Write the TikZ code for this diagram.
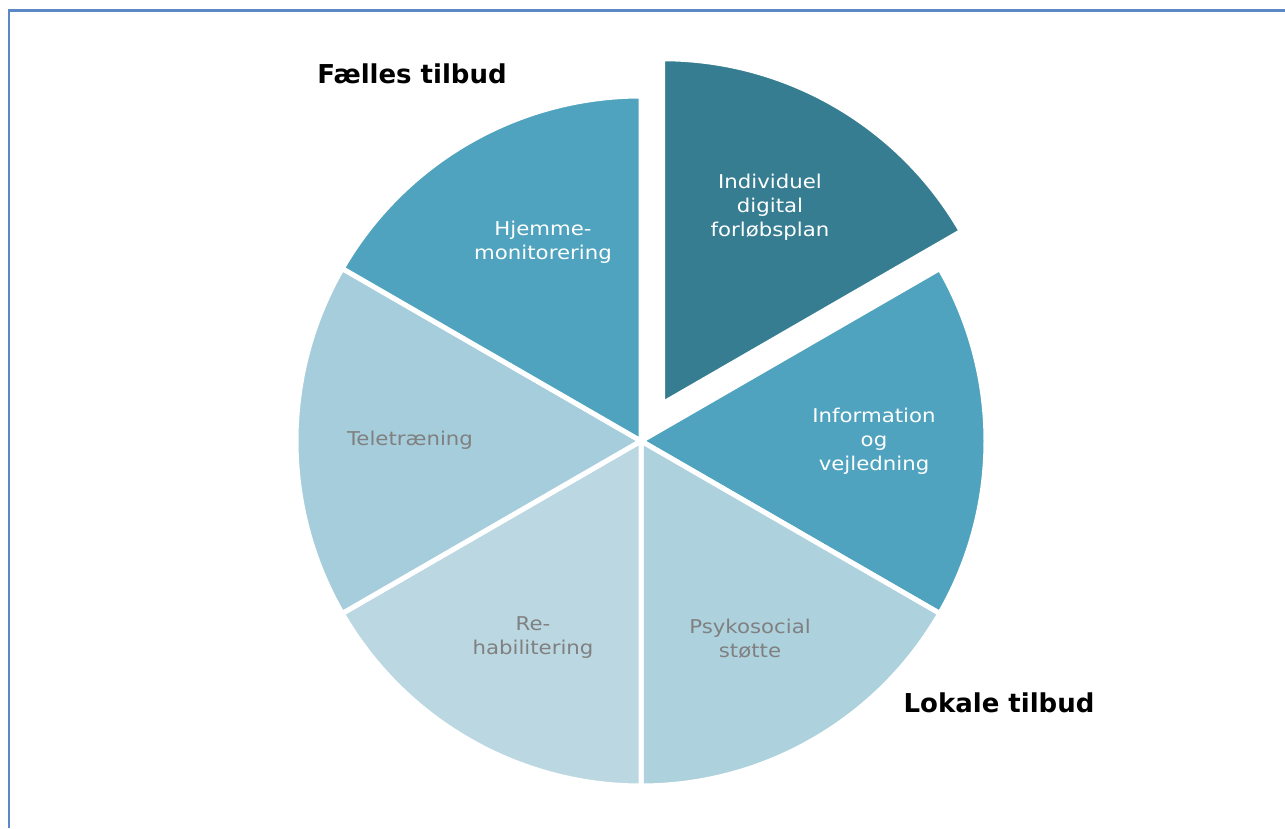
\documentclass[tikz,border=0pt]{standalone}
\usepackage{fontspec}
\setmainfont{DejaVu Sans}
\newfontfamily\widesans[FakeStretch=1.12]{DejaVu Sans}
\definecolor{frameblue}{HTML}{5A89C6}
\definecolor{tealdark}{HTML}{367D91}
\definecolor{tealmid}{HTML}{4FA3BE}
\definecolor{tealtele}{HTML}{A6CDDB}
\definecolor{tealrehab}{HTML}{BBD8E2}
\definecolor{tealpsyk}{HTML}{ADD2DE}
\definecolor{labelgray}{HTML}{808080}
\begin{document}
\begin{tikzpicture}[x=1pt,y=1pt,
  slice/.style={draw=white,line width=5pt,line join=miter},
  lbl/.style={align=center,font=\widesans\fontsize{19}{24}\selectfont,inner sep=0pt},
  lblw/.style={lbl,text=white},
  lblg/.style={lbl,text=labelgray},
  head/.style={font=\fontsize{26}{30}\selectfont\bfseries,text=black,inner sep=0pt}]
\useasboundingbox (0,0) rectangle (1285,828);
\fill[white] (0,0) rectangle (1285,828);
% frame lines along the left and top edges
\draw[frameblue,line width=2.5pt] (9,0) -- (9,817.5) -- (1285,817.5);

\def\R{345}
\begin{scope}[shift={(641,387)}]
  % six equal sectors
  \fill[tealmid,slice] (0,0) -- (30:\R) arc[start angle=30,end angle=-30,radius=\R] -- cycle;
  \fill[tealpsyk,slice] (0,0) -- (-30:\R) arc[start angle=-30,end angle=-90,radius=\R] -- cycle;
  \fill[tealrehab,slice] (0,0) -- (-90:\R) arc[start angle=-90,end angle=-150,radius=\R] -- cycle;
  \fill[tealtele,slice] (0,0) -- (210:\R) arc[start angle=210,end angle=150,radius=\R] -- cycle;
  \fill[tealmid,slice] (0,0) -- (150:\R) arc[start angle=150,end angle=90,radius=\R] -- cycle;
  % exploded sector
  \begin{scope}[shift={(60:43)}]
    \fill[tealdark,slice] (0,0) -- (90:\R) arc[start angle=90,end angle=30,radius=\R] -- cycle;
  \end{scope}
\end{scope}

\node[lblw] (plan) at (770,621) {Individuel\\digital\\forløbsplan};
\node[lblw] (info) at (874,387) {Information\\og\\vejledning};
\node[lblg] (psyk) at (750,189) {Psykosocial\\støtte};
\node[lblg] (rehab) at (533,190) {Re-\\habilitering};
\node[lblg] (tele) at (410,388) {Teletræning};
\node[lblw] (hjem) at (543,586) {Hjemme-\\monitorering};

\node[head] (faelles) at (412,754) {Fælles tilbud};
\node[head] (lokale) at (999,125) {Lokale tilbud};
\end{tikzpicture}
\end{document}
